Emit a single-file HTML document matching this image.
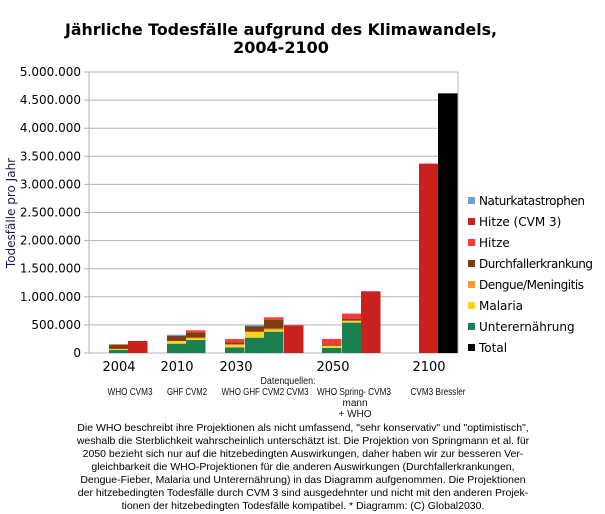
<!DOCTYPE html>
<html><head><meta charset="utf-8"><style>
body{margin:0;background:#fff;}
svg{display:block;font-family:"DejaVu Sans",sans-serif;}
.s{font-family:"Liberation Sans",sans-serif;}
</style></head><body>
<svg id="chart" width="605" height="514" xmlns="http://www.w3.org/2000/svg">
<text x="281" y="35" text-anchor="middle" font-size="16" font-weight="bold" textLength="432" lengthAdjust="spacingAndGlyphs">Jährliche Todesfälle aufgrund des Klimawandels,</text>
<text x="281" y="53" text-anchor="middle" font-size="16" font-weight="bold">2004-2100</text>
<text transform="translate(15,213) rotate(-90)" text-anchor="middle" font-size="12" fill="#1a1a4a">Todesfälle pro Jahr</text>
<g id="grid"></g><g id="bars"></g><g id="legend"></g>
<g font-size="13">
<text x="119" y="371" text-anchor="middle">2004</text>
<text x="177" y="371" text-anchor="middle">2010</text>
<text x="236" y="371" text-anchor="middle">2030</text>
<text x="333" y="371" text-anchor="middle">2050</text>
<text x="429" y="371" text-anchor="middle">2100</text>
</g>
<g class="s" font-size="10" fill="#111">
<text x="288" y="384" text-anchor="middle" textLength="55" lengthAdjust="spacingAndGlyphs">Datenquellen:</text>
<text x="130" y="395" text-anchor="middle" textLength="45" lengthAdjust="spacingAndGlyphs">WHO CVM3</text>
<text x="187" y="395" text-anchor="middle" textLength="40" lengthAdjust="spacingAndGlyphs">GHF CVM2</text>
<text x="265" y="395" text-anchor="middle" textLength="87" lengthAdjust="spacingAndGlyphs">WHO GHF CVM2 CVM3</text>
<text x="354" y="395" text-anchor="middle" textLength="74" lengthAdjust="spacingAndGlyphs">WHO Spring- CVM3</text>
<text x="355" y="406" text-anchor="middle">mann</text>
<text x="355" y="417" text-anchor="middle">+ WHO</text>
<text x="438" y="395" text-anchor="middle" textLength="55" lengthAdjust="spacingAndGlyphs">CVM3 Bressler</text>
</g>
<g class="s" font-size="10.5" text-anchor="middle" fill="#000">
<text x="303" y="431">Die WHO beschreibt ihre Projektionen als nicht umfassend, "sehr konservativ" und "optimistisch",</text>
<text x="303" y="444">weshalb die Sterblichkeit wahrscheinlich unterschätzt ist. Die Projektion von Springmann et al. für</text>
<text x="303" y="457">2050 bezieht sich nur auf die hitzebedingten Auswirkungen, daher haben wir zur besseren Ver-</text>
<text x="303" y="470">gleichbarkeit die WHO-Projektionen für die anderen Auswirkungen (Durchfallerkrankungen,</text>
<text x="303" y="483">Dengue-Fieber, Malaria und Unterernährung) in das Diagramm aufgenommen. Die Projektionen</text>
<text x="303" y="496">der hitzebedingten Todesfälle durch CVM 3 sind ausgedehnter und nicht mit den anderen Projek-</text>
<text x="303" y="509">tionen der hitzebedingten Todesfälle kompatibel. * Diagramm: (C) Global2030.</text>
</g>
</svg>
<script>
const bars=["2004 WHO","2004 CVM3","2010 GHF","2010 CVM2","2030 WHO","2030 GHF","2030 CVM2","2030 CVM3","2050 WHO","2050 Springmann","2050 CVM3","2100 CVM3","2100 Total"];
const barLeft=[109,128,167,186,225,245,264,284,322,342,361,419,438];
const seriesNames=["Unterernährung","Malaria","Dengue/Meningitis","Durchfallerkrankung","Hitze","Hitze (CVM 3)","Naturkatastrophen","Total"];
const seriesColors=["#1a8050","#ffd320","#ff9933","#7b3f10","#ff3838","#c9211e","#729fcf","#000000"];
const unter=[53000,0,166000,231000,100000,273000,380000,0,89000,540000,0,0,0];
const malaria=[15000,0,47000,25000,45000,100000,30000,0,35000,30000,0,0,0];
const dengue=[5000,0,0,17000,8000,7000,23000,0,7000,6000,0,0,0];
const durchfall=[70000,0,95000,95000,36000,98000,160000,0,24000,30000,0,0,0];
const hitze=[12000,0,0,36000,59000,0,42000,0,95000,95000,0,0,0];
const hitzeCVM3=[0,214000,0,0,0,0,0,493000,0,0,1098000,3370000,0];
const natur=[0,0,18000,0,0,24000,0,0,0,0,0,0,0];
const total=[0,0,0,0,0,0,0,0,0,0,0,0,4620000];
const yTicks=[0,500000,1000000,1500000,2000000,2500000,3000000,3500000,4000000,4500000,5000000];
const yTickLabels=["0","500.000","1.000.000","1.500.000","2.000.000","2.500.000","3.000.000","3.500.000","4.000.000","4.500.000","5.000.000"];
const NS="http://www.w3.org/2000/svg";
const x0=89,x1=458,yZero=353,yTop=72,yMax=5000000;
const barW=19.5;
function y(v){return yZero-(v/yMax)*(yZero-yTop);}
function mk(tag,a,parent){const e=document.createElementNS(NS,tag);for(const k in a)e.setAttribute(k,a[k]);parent.appendChild(e);return e;}
const grid=document.getElementById('grid');
yTicks.forEach((t,i)=>{
  const l=mk('line',{x1:x0-5,x2:x1,y1:y(t),y2:y(t),stroke:'#b3b3b3','stroke-width':1},grid);
  
  
  const tx=mk('text',{x:x0-8,y:y(t)+4,'text-anchor':'end','font-size':12},grid);
  tx.textContent=yTickLabels[i];
  
  
});
const ax=mk('line',{x1:x0,x2:x0,y1:yTop,y2:yZero,stroke:'#b3b3b3'},grid);


const rx=mk('line',{x1:x1,x2:x1,y1:yTop,y2:yZero,stroke:'#b3b3b3'},grid);


const series=[unter,malaria,dengue,durchfall,hitze,hitzeCVM3,natur,total];
const bg=document.getElementById('bars');
bars.forEach((b,i)=>{
  let acc=0;
  series.forEach((s,k)=>{
    const v=s[i]; if(!v)return;
    const r=mk('rect',{x:barLeft[i],y:y(acc+v),width:barW,height:y(acc)-y(acc+v),fill:seriesColors[k]},bg);
    
    
    acc+=v;
  });
});
const lg=document.getElementById('legend');
const order=[6,5,4,3,2,1,0,7];
order.forEach((k,i)=>{
  const yy=201+i*21;
  const r=mk('rect',{x:468,y:yy-4,width:7,height:7,fill:seriesColors[k]},lg);
  
  
  const t=mk('text',{x:479,y:yy+4,'font-size':12},lg);
  t.textContent=seriesNames[k];
  if(k===3)t.setAttribute('textLength','114');
  if(k===6)t.setAttribute('textLength','106');
  if(k===2)t.setAttribute('textLength','105');
  
  
});
</script>
</body></html>
